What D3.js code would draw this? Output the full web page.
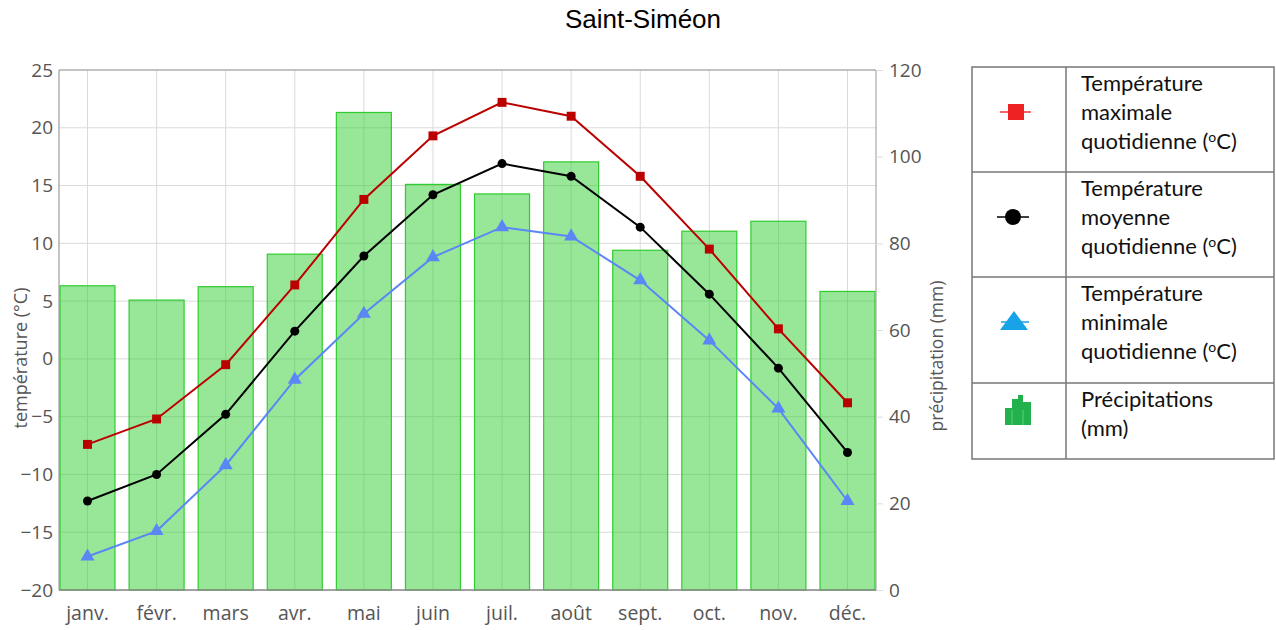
<!DOCTYPE html>
<html>
<head>
<meta charset="utf-8">
<script src="https://cdn.jsdelivr.net/npm/d3@7"></script>
<style>
  body { margin: 0; background: #fff; }
  svg { display: block; }
</style>
</head>
<body>
<div id="chart"></div>
<script>
// Data
var months = ["janv.", "févr.", "mars", "avr.", "mai", "juin", "juil.", "août", "sept.", "oct.", "nov.", "déc."];
var tempMax = [-7.4, -5.2, -0.5, 6.4, 13.8, 19.3, 22.2, 21.0, 15.8, 9.5, 2.6, -3.8];
var tempMean = [-12.3, -10.0, -4.8, 2.4, 8.9, 14.2, 16.9, 15.8, 11.4, 5.6, -0.8, -8.1];
var tempMin = [-17.1, -14.9, -9.2, -1.8, 3.9, 8.8, 11.4, 10.6, 6.8, 1.6, -4.3, -12.3];
var precip = [70.2, 66.9, 70.0, 77.5, 110.2, 93.6, 91.4, 98.8, 78.4, 82.8, 85.1, 68.9];
var tempTicks = [-20, -15, -10, -5, 0, 5, 10, 15, 20, 25];
var precipTicks = [0, 20, 40, 60, 80, 100, 120];

var width = 1276, height = 630;
var margin = { left: 59, top: 70 };
var plotW = 876 - margin.left;
var plotH = 590 - margin.top;

var svg = d3.select("#chart").append("svg")
    .attr("width", width)
    .attr("height", height);

// Title
svg.append("text")
    .attr("x", 643).attr("y", 28)
    .attr("text-anchor", "middle")
    .style("font-family", "'Liberation Sans', Arial, sans-serif")
    .style("font-size", "26px")
    .attr("fill", "#000")
    .text("Saint-Siméon");

var g = svg.append("g").attr("transform", "translate(" + margin.left + "," + margin.top + ")");

// Scales
var x = d3.scaleBand().domain(months).range([1, plotW - 1]).paddingInner(0.204).paddingOuter(0);
var xc = function (m) { return x(m) + x.bandwidth() / 2; };
var yT = d3.scaleLinear().domain([-20, 25]).range([plotH, 0]);
var yP = d3.scaleLinear().domain([0, 120]).range([plotH, 0]);

// Horizontal gridlines
g.append("g").selectAll("line").data(tempTicks).enter().append("line")
    .attr("x1", 0).attr("x2", plotW)
    .attr("y1", function (d) { return yT(d); }).attr("y2", function (d) { return yT(d); })
    .attr("stroke", "#dadada").attr("stroke-width", 1);

// Vertical gridlines
g.append("g").selectAll("line").data(months).enter().append("line")
    .attr("x1", xc).attr("x2", xc)
    .attr("y1", 0).attr("y2", plotH)
    .attr("stroke", "#dadada").attr("stroke-width", 1);

// Precipitation bars
g.append("g").selectAll("rect").data(precip).enter().append("rect")
    .attr("x", function (d, i) { return x(months[i]); })
    .attr("width", x.bandwidth())
    .attr("y", function (d) { return yP(d); })
    .attr("height", function (d) { return plotH - yP(d); })
    .attr("fill", "#32cd32").attr("fill-opacity", 0.5)
    .attr("stroke", "#2fcc2f").attr("stroke-width", 1.2);

// Frame
g.append("line").attr("x1", 0).attr("x2", plotW).attr("y1", 0).attr("y2", 0).attr("stroke", "#999");
g.append("line").attr("x1", plotW).attr("x2", plotW).attr("y1", 0).attr("y2", plotH).attr("stroke", "#999");
g.append("line").attr("x1", 0).attr("x2", 0).attr("y1", 0).attr("y2", plotH).attr("stroke", "#888");
g.append("line").attr("x1", 0).attr("x2", plotW).attr("y1", plotH).attr("y2", plotH).attr("stroke", "#888").attr("stroke-width", 1.5);

var axisFont = "'Open Sans', sans-serif";

// Left axis
var leftAxis = g.append("g").call(d3.axisLeft(yT).tickValues(tempTicks).tickSize(0).tickPadding(6));
leftAxis.select(".domain").remove();
leftAxis.selectAll("text").style("font-family", axisFont).style("font-size", "19px").attr("fill", "#555");

// Right axis
var rightAxis = g.append("g").attr("transform", "translate(" + plotW + ",0)")
    .call(d3.axisRight(yP).tickValues(precipTicks).tickSize(7).tickPadding(6));
rightAxis.select(".domain").remove();
rightAxis.selectAll("line").attr("stroke", "#ddd");
rightAxis.selectAll("text").style("font-family", axisFont).style("font-size", "19px").attr("fill", "#555");

// Bottom axis
var bottomAxis = g.append("g").attr("transform", "translate(0," + plotH + ")")
    .call(d3.axisBottom(x).tickSize(0).tickPadding(16));
bottomAxis.select(".domain").remove();
bottomAxis.selectAll("text").style("font-family", axisFont).style("font-size", "19.5px").attr("fill", "#555");

// Axis titles
svg.append("text")
    .attr("transform", "translate(27,358) rotate(-90)")
    .attr("text-anchor", "middle")
    .style("font-family", axisFont).style("font-size", "18px").attr("fill", "#555")
    .text("température (°C)");
svg.append("text")
    .attr("transform", "translate(943,356) rotate(-90)")
    .attr("text-anchor", "middle")
    .style("font-family", axisFont).style("font-size", "17.5px").attr("fill", "#555")
    .text("précipitation (mm)");

// Lines and markers
var line = d3.line()
    .x(function (d, i) { return xc(months[i]); })
    .y(function (d) { return yT(d); });

g.append("path").datum(tempMax).attr("d", line).attr("fill", "none").attr("stroke", "#bb0000").attr("stroke-width", 2);
g.append("path").datum(tempMean).attr("d", line).attr("fill", "none").attr("stroke", "#000").attr("stroke-width", 2);
g.append("path").datum(tempMin).attr("d", line).attr("fill", "none").attr("stroke", "#5b86f5").attr("stroke-width", 2);

g.append("g").selectAll("path").data(tempMax).enter().append("path")
    .attr("d", d3.symbol().type(d3.symbolSquare).size(80))
    .attr("transform", function (d, i) { return "translate(" + xc(months[i]) + "," + yT(d) + ")"; })
    .attr("fill", "#bb0000");
g.append("g").selectAll("circle").data(tempMean).enter().append("circle")
    .attr("cx", function (d, i) { return xc(months[i]); })
    .attr("cy", function (d) { return yT(d); })
    .attr("r", 4.5).attr("fill", "#000");
g.append("g").selectAll("path").data(tempMin).enter().append("path")
    .attr("d", d3.symbol().type(d3.symbolTriangle).size(85))
    .attr("transform", function (d, i) { return "translate(" + xc(months[i]) + "," + yT(d) + ")"; })
    .attr("fill", "#5b86f5");

// Legend table
var legX = 972, legW = 302, colX = 1066;
var rowsY = [67, 172, 277, 383, 459];
var leg = svg.append("g");
leg.append("rect").attr("x", legX).attr("y", rowsY[0]).attr("width", legW).attr("height", rowsY[4] - rowsY[0])
    .attr("fill", "none").attr("stroke", "#777").attr("stroke-width", 1.5);
leg.append("line").attr("x1", colX).attr("x2", colX).attr("y1", rowsY[0]).attr("y2", rowsY[4]).attr("stroke", "#777").attr("stroke-width", 1.5);
rowsY.slice(1, 4).forEach(function (yy) {
    leg.append("line").attr("x1", legX).attr("x2", legX + legW).attr("y1", yy).attr("y2", yy).attr("stroke", "#777").attr("stroke-width", 1.5);
});

var legFont = "Lato, 'Open Sans', sans-serif";
var legendItems = [
    ["Température", "maximale", "quotidienne (", "C)"],
    ["Température", "moyenne", "quotidienne (", "C)"],
    ["Température", "minimale", "quotidienne (", "C)"],
    ["Précipitations", "(mm)"]
];
legendItems.forEach(function (lines, r) {
    var t = leg.append("text").attr("x", 1081).attr("y", rowsY[r] + 24)
        .style("font-family", legFont).style("font-size", "22px").attr("fill", "#111");
    t.append("tspan").attr("x", 1081).attr("dy", 0).text(lines[0]);
    t.append("tspan").attr("x", 1081).attr("dy", 29).text(lines[1]);
    if (lines.length > 2) {
        t.append("tspan").attr("x", 1081).attr("dy", 29).text(lines[2]);
        t.append("tspan").attr("dy", -7).style("font-size", "14px").text("o");
        t.append("tspan").attr("dy", 7).text(lines[3]);
    }
});

// Legend icons
leg.append("line").attr("x1", 1000).attr("x2", 1031).attr("y1", 112).attr("y2", 112).attr("stroke", "#e33").attr("stroke-width", 1.5);
leg.append("rect").attr("x", 1008).attr("y", 104).attr("width", 16).attr("height", 16).attr("fill", "#ee2222");
leg.append("line").attr("x1", 997).attr("x2", 1029).attr("y1", 217).attr("y2", 217).attr("stroke", "#000").attr("stroke-width", 1.5);
leg.append("circle").attr("cx", 1013).attr("cy", 217).attr("r", 8).attr("fill", "#000");
leg.append("line").attr("x1", 1001).attr("x2", 1029).attr("y1", 322).attr("y2", 322).attr("stroke", "#19a0e0").attr("stroke-width", 1.5);
leg.append("path").attr("d", "M1014,311 L1028,330 L1000,330 Z").attr("fill", "#18a2e8");
// precipitation icon: small columns
var iconBars = [[1005, 408, 7, 17], [1012, 399, 6, 26], [1018, 395, 5, 30], [1023, 402, 8, 23]];
iconBars.forEach(function (b) {
    leg.append("rect").attr("x", b[0]).attr("y", b[1]).attr("width", b[2]).attr("height", b[3]).attr("fill", "#22b14c");
});
[1012, 1023].forEach(function (xx) {
    leg.append("line").attr("x1", xx).attr("x2", xx).attr("y1", 410).attr("y2", 425).attr("stroke", "#5fcf7f").attr("stroke-width", 1);
});
</script>
</body>
</html>
